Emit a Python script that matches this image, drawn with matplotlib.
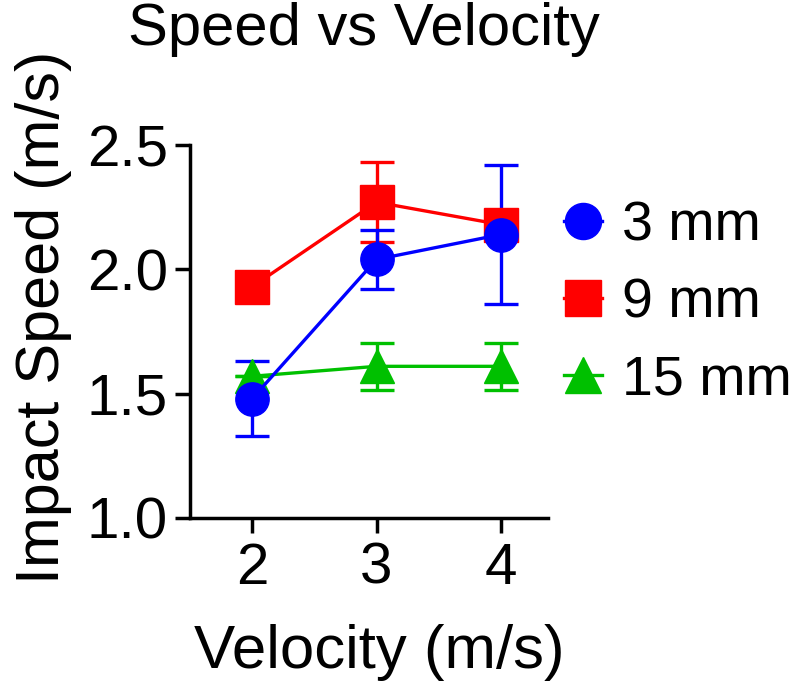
import matplotlib
matplotlib.use("Agg")
import matplotlib.pyplot as plt
from matplotlib.lines import Line2D

plt.rcParams['font.family'] = ['Liberation Sans', 'DejaVu Sans']

velocity = [2, 3, 4]
speed_3mm = [1.48, 2.04, 2.14]
err_3mm = [0.15, 0.12, 0.28]
speed_9mm = [1.93, 2.27, 2.18]
err_9mm = [0.0, 0.16, 0.0]
speed_15mm = [1.57, 1.61, 1.61]
err_15mm = [0.0, 0.095, 0.095]
labels = ["3 mm", "9 mm", "15 mm"]
colors = ['#0000ff', '#ff0000', '#00c000']
markers = ['o', 's', '^']

fig = plt.figure(figsize=(7.99, 6.85), dpi=100)
ax = fig.add_axes([0.2378, 0.2438, 0.686 - 0.2378, 0.7883 - 0.2438])

lw = 2.4
ms = 24
ax.errorbar(velocity, speed_9mm, yerr=err_9mm, color=colors[1], marker='s', ms=ms,
            lw=lw, elinewidth=lw, capsize=12.5, capthick=lw)
ax.errorbar(velocity, speed_15mm, yerr=err_15mm, color=colors[2], marker='^', ms=ms,
            lw=lw, elinewidth=lw, capsize=12.5, capthick=lw)
ax.errorbar(velocity, speed_3mm, yerr=err_3mm, color=colors[0], marker='o', ms=ms,
            lw=lw, elinewidth=lw, capsize=12.5, capthick=lw)

ax.set_xlim(1.5, 4.38)
ax.set_ylim(1.0, 2.5)
ax.set_xticks(velocity)
ax.set_yticks([1.0, 1.5, 2.0, 2.5])
ax.set_yticklabels(["1.0", "1.5", "2.0", "2.5"])
for s in ['top', 'right']:
    ax.spines[s].set_visible(False)
for s in ['left', 'bottom']:
    ax.spines[s].set_linewidth(2.5)
ax.tick_params(axis='both', width=2.5, length=11, labelsize=42)
ax.tick_params(axis='x', pad=6)
ax.tick_params(axis='y', pad=5)

ax.set_xlabel("Velocity (m/s)", fontsize=44.5)
ax.xaxis.set_label_coords(0.53, -0.285)
ax.xaxis.label.set_va('top')
ax.set_ylabel("Impact Speed (m/s)", fontsize=44)
ax.yaxis.set_label_coords(-0.33, 0.537)
fig.text(0.455, 0.957, "Speed vs Velocity", fontsize=43, ha='center', va='center')

handles = [Line2D([0], [0], color=c, marker=m, ms=26, lw=lw) for c, m in zip(colors, markers)]
ax.legend(handles, labels, loc='upper left', bbox_to_anchor=(0.936, 0.955),
          frameon=False, fontsize=40, handlelength=0.69, handletextpad=0.36,
          labelspacing=0.45, borderaxespad=0.3)

fig.savefig("out.png", dpi=100)
